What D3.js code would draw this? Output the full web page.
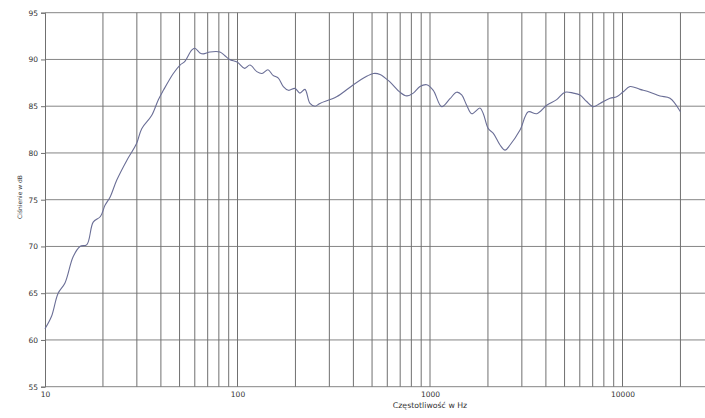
<!DOCTYPE html>
<html>
<head>
<meta charset="utf-8">
<script src="https://cdn.jsdelivr.net/npm/d3@7"></script>
<style>
  body { margin: 0; background: #fff; }
  text { font-family: "DejaVu Sans", Verdana, sans-serif; fill: #333; }
</style>
</head>
<body>
<div id="chart"></div>
<script>
const freqHz = [10, 10.8, 11.7, 12.7, 14, 15.2, 16.5, 17.8, 19.4, 20.5, 21.8, 23.6, 26.6, 29.9, 31.8, 35.8,
  38.8, 41.2, 46.4, 50.3, 53.3, 57.8, 60, 63.8, 66.4, 72, 81, 86, 91, 100, 109, 116, 126, 134, 144, 153,
  163, 173, 184, 199, 211, 224, 238, 253, 268, 327, 400, 469, 508, 550, 619, 698, 757, 819, 887, 961,
  1040, 1150, 1270, 1376, 1461, 1551, 1647, 1818, 1892, 2009, 2133, 2311, 2453, 2604, 2935, 3241, 3584,
  4038, 4550, 5027, 5552, 6013, 6516, 7050, 7640, 8610, 9330, 10090, 10940, 12330, 13890, 15660, 17650, 20000];
const splDb = [61.2, 62.5, 65.0, 66.1, 68.9, 70.0, 70.2, 72.6, 73.2, 74.4, 75.3, 77.1, 79.2, 81.0, 82.6, 84.0,
  85.7, 86.7, 88.5, 89.4, 89.8, 91.0, 91.2, 90.7, 90.6, 90.8, 90.8, 90.4, 90.0, 89.7, 89.05, 89.4, 88.7, 88.5, 88.9, 88.3,
  88.0, 87.1, 86.7, 86.9, 86.4, 86.8, 85.3, 85.0, 85.3, 86.0, 87.3, 88.2, 88.5, 88.4, 87.6, 86.5, 86.1, 86.4, 87.1, 87.3,
  86.7, 84.95, 85.8, 86.5, 86.2, 85.1, 84.2, 84.8, 84.2, 82.6, 82.1, 80.85, 80.3, 80.85, 82.45, 84.4, 84.2,
  85.1, 85.7, 86.5, 86.4, 86.2, 85.5, 84.95, 85.3, 85.85, 86.0, 86.55, 87.1, 86.8, 86.5, 86.1, 85.85, 84.4];

const xLabels = [10, 100, 1000, 10000];
const yTicks = [55, 60, 65, 70, 75, 80, 85, 90, 95];
const xGrid = [20, 30, 40, 50, 60, 70, 80, 90, 100, 200, 300, 400, 500, 600, 700, 800, 900,
  1000, 2000, 3000, 4000, 5000, 6000, 7000, 8000, 9000, 10000, 20000];

const W = 705, H = 418;
const PLOT = {left: 45, top: 12.7, bottom: 386.7, right: 705};
const FONT = '"DejaVu Sans", Verdana, sans-serif';

const svg = d3.select('#chart').append('svg')
  .attr('width', W)
  .attr('height', H);

const x = d3.scaleLog().domain([10, 10 * Math.pow(10, (PLOT.right - PLOT.left) / 192.5)]).range([PLOT.left, PLOT.right]);
const y = d3.scaleLinear().domain([55, 95]).range([PLOT.bottom, PLOT.top]);

// grid
svg.append('g').selectAll('line')
  .data(yTicks).enter().append('line')
  .attr('x1', PLOT.left).attr('x2', PLOT.right)
  .attr('y1', d => y(d)).attr('y2', d => y(d))
  .attr('stroke', '#858585').attr('stroke-width', 1);

svg.append('g').selectAll('line')
  .data(xGrid).enter().append('line')
  .attr('x1', d => x(d)).attr('x2', d => x(d))
  .attr('y1', PLOT.top).attr('y2', PLOT.bottom)
  .attr('stroke', '#707070').attr('stroke-width', 1);

// left axis line + ticks
const yAxis = d3.axisLeft(y).tickValues(yTicks).tickSize(4).tickFormat(d3.format('d'));
svg.append('g')
  .attr('transform', `translate(${PLOT.left},0)`)
  .call(yAxis)
  .call(g => g.select('.domain').attr('stroke', '#707070'))
  .call(g => g.selectAll('.tick line').attr('stroke', '#707070'))
  .call(g => g.selectAll('.tick text').attr('font-size', 7.5).attr('fill', '#333').attr('font-family', FONT));

const xAxis = d3.axisBottom(x).tickValues(xLabels).tickSize(0).tickFormat(d3.format('d'));
svg.append('g')
  .attr('transform', `translate(0,${PLOT.bottom})`)
  .call(xAxis)
  .call(g => g.select('.domain').remove())
  .call(g => g.selectAll('.tick text').attr('dy', '0.95em').attr('font-size', 7.5).attr('fill', '#333').attr('font-family', FONT));

// response curve
const line = d3.line()
  .x((d, i) => x(freqHz[i]))
  .y(d => y(d))
  .curve(d3.curveCatmullRom.alpha(0.5));

svg.append('path')
  .datum(splDb)
  .attr('d', line)
  .attr('fill', 'none')
  .attr('stroke', '#6a6e96')
  .attr('stroke-width', 1.1);

// titles
svg.append('text')
  .attr('x', 430).attr('y', 408)
  .attr('text-anchor', 'middle')
  .attr('font-size', 7.8)
  .text('Częstotliwość w Hz');

svg.append('text')
  .attr('transform', 'translate(22,197) rotate(-90)')
  .attr('text-anchor', 'middle')
  .attr('font-size', 6)
  .text('Ciśnienie w dB');
</script>
</body>
</html>
